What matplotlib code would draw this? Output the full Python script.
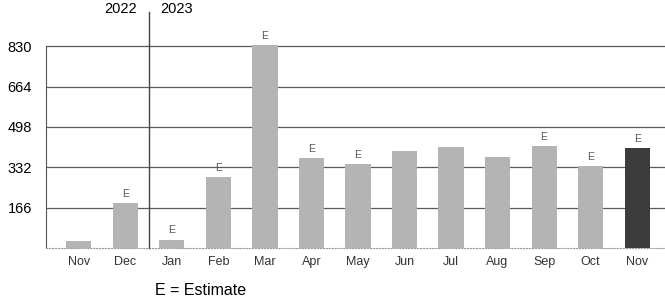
import matplotlib.pyplot as plt

plt.rcParams['font.family'] = ['Liberation Sans', 'DejaVu Sans']

# -----------------------------
# DATA
# -----------------------------
months = ["Nov", "Dec", "Jan", "Feb", "Mar", "Apr", "May",
          "Jun", "Jul", "Aug", "Sep", "Oct", "Nov"]
values = [30, 185, 34, 292, 834, 370, 345, 400, 415, 373, 418, 336, 411]
estimate = [False, True, True, True, True, True, True,
            False, False, False, True, True, True]
yticks = [166, 332, 498, 664, 830]

bar_color = "#b4b4b4"
last_color = "#3c3c3c"

# -----------------------------
# PLOT
# -----------------------------
fig = plt.figure(figsize=(6.65, 3.04), dpi=100)
ax = fig.add_axes([0.069, 0.184, 0.931, 0.672])

x = list(range(len(months)))
colors = [bar_color] * (len(months) - 1) + [last_color]
ax.bar(x, values, width=0.54, color=colors, zorder=3)

for xi, v, e in zip(x, values, estimate):
    if e:
        ax.text(xi, v + 18, "E", ha="center", va="bottom",
                fontsize=7.5, color="#555555")

ax.set_xlim(-0.71, 12.6)
ax.set_ylim(0, 840)
ax.set_yticks(yticks)
ax.set_yticklabels([str(t) for t in yticks], fontsize=10.5)
ax.set_xticks(x)
ax.set_xticklabels(months, fontsize=9, color="#333333")
ax.tick_params(axis="both", length=0)
ax.tick_params(axis="y", pad=10)
ax.tick_params(axis="x", pad=6)

ax.grid(axis="y", color="#5a5a5a", linewidth=0.9, zorder=1)
for s in ["top", "right"]:
    ax.spines[s].set_visible(False)
ax.spines["left"].set_color("#555555")
ax.spines["left"].set_bounds(0, 830)
ax.spines["bottom"].set_color("#999999")
ax.spines["bottom"].set_linestyle(":")

# year divider
ax.axvline(1.5, ymin=0, ymax=1.155, color="#444444", linewidth=1.0,
           clip_on=False, zorder=4)
ax.text(1.25, 1.17, "2022", transform=ax.get_xaxis_transform(),
        ha="right", va="center", fontsize=10.5)
ax.text(1.75, 1.17, "2023", transform=ax.get_xaxis_transform(),
        ha="left", va="center", fontsize=10.5)

fig.text(0.233, 0.045, "E = Estimate", fontsize=11.5, ha="left", va="center")

fig.savefig("out.png", dpi=100)
